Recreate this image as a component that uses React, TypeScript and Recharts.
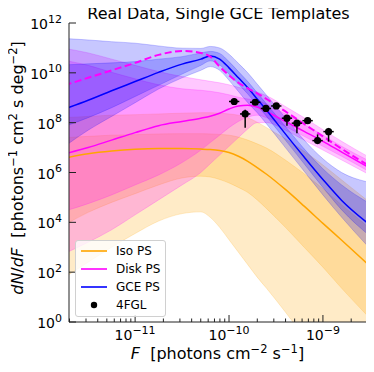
import React from 'react';
import { ComposedChart, Area, Line, Scatter, XAxis, YAxis, ErrorBar, Legend } from 'recharts';

// log10(F) grid
const logF = [-11.75, -11.5, -11.25, -11.0, -10.75, -10.5, -10.3, -10.2, -10.1, -10.0, -9.9, -9.8, -9.7, -9.6, -9.4, -9.2, -9.0, -8.8, -8.5];

// Iso PS (log10 dN/dF)
const isoMed = [6.58, 6.75, 6.86, 6.93, 6.96, 6.96, 6.94, 6.92, 6.88, 6.8, 6.65, 6.45, 6.2, 5.93, 5.32, 4.65, 3.96, 3.28, 2.25];
const isoHi95 = [8.2, 8.25, 8.3, 8.32, 8.35, 8.38, 8.4, 8.4, 8.38, 8.35, 8.3, 8.2, 8.02, 7.8, 7.35, 6.85, 6.3, 5.7, 4.8];
const isoHi68 = [7.4, 7.45, 7.5, 7.52, 7.55, 7.56, 7.56, 7.55, 7.53, 7.5, 7.42, 7.3, 7.15, 6.98, 6.5, 5.95, 5.35, 4.7, 3.75];
const isoLo68 = [3.9, 4.4, 4.8, 5.15, 5.5, 5.78, 5.85, 5.82, 5.72, 5.58, 5.4, 5.2, 4.9, 4.55, 3.8, 3.0, 2.2, 1.35, 0.15];
const isoLo95 = [1.8, 2.4, 3.0, 3.55, 4.05, 4.35, 4.42, 4.2, 3.8, 3.3, 2.8, 2.3, 1.8, 1.35, 0.4, -0.6, -1.6, -2.6, -4.0];

// Disk PS
const diskMed = [6.75, 7.0, 7.3, 7.6, 7.88, 8.05, 8.18, 8.26, 8.38, 8.55, 8.67, 8.7, 8.63, 8.45, 8.05, 7.65, 7.25, 6.82, 6.18];
const diskAlt = [9.5, 9.8, 10.1, 10.4, 10.72, 10.88, 10.8, 10.65, 10.25, 9.9, 9.6, 9.38, 9.18, 8.95, 8.45, 7.95, 7.45, 6.95, 6.25];
const diskHi95 = [10.98, 10.8, 10.55, 10.3, 10.05, 9.85, 9.72, 9.66, 9.6, 9.52, 9.42, 9.32, 9.22, 9.08, 8.65, 8.2, 7.72, 7.25, 6.6];
const diskHi68 = [10.5, 10.3, 10.02, 9.76, 9.52, 9.36, 9.3, 9.26, 9.2, 9.12, 9.02, 8.95, 8.88, 8.75, 8.35, 7.93, 7.5, 7.05, 6.45];
const diskLo68 = [4.45, 4.75, 5.1, 5.5, 5.9, 6.4, 6.9, 7.2, 7.5, 7.8, 8.05, 8.22, 8.3, 8.2, 7.85, 7.45, 7.05, 6.65, 6.02];
const diskLo95 = [2.75, 3.2, 3.7, 4.3, 4.9, 5.5, 6.0, 6.35, 6.7, 7.05, 7.4, 7.75, 8.0, 8.0, 7.7, 7.3, 6.9, 6.5, 5.9];

// GCE PS
const gceMed = [8.55, 8.9, 9.28, 9.65, 10.02, 10.35, 10.55, 10.68, 10.55, 10.2, 9.8, 9.4, 8.95, 8.5, 7.55, 6.62, 5.72, 4.88, 3.9];
const gceHi95 = [11.38, 11.32, 11.25, 11.19, 11.08, 10.99, 10.98, 11.06, 11.0, 10.75, 10.38, 10.0, 9.55, 9.1, 8.2, 7.3, 6.55, 6.0, 5.6];
const gceHi68 = [10.32, 10.36, 10.4, 10.45, 10.55, 10.65, 10.8, 10.86, 10.78, 10.45, 10.05, 9.65, 9.2, 8.75, 7.85, 6.95, 6.15, 5.5, 4.75];
const gceLo68 = [7.85, 8.2, 8.6, 9.05, 9.5, 9.95, 10.3, 10.48, 10.32, 9.95, 9.55, 9.15, 8.7, 8.25, 7.3, 6.35, 5.4, 4.5, 3.45];
const gceLo95 = [7.05, 7.7, 8.25, 8.8, 9.35, 9.8, 10.1, 10.25, 10.1, 9.7, 9.25, 8.8, 8.4, 7.95, 7.0, 6.05, 5.1, 4.2, 2.95];

// 4FGL points (log10 F, log10 dN/dF, errors in dex)
const fglLogF = [-9.945, -9.828, -9.721, -9.607, -9.497, -9.383, -9.277, -9.163, -9.057, -8.94];
const fglLogN = [8.85, 8.35, 8.82, 8.57, 8.67, 8.18, 7.98, 8.08, 7.28, 7.64];
const fglErrLo = [0.12, 0.55, 0.1, 0.12, 0.1, 0.3, 0.4, 0.12, 0.1, 0.4];
const fglErrHi = [0.12, 0.17, 0.1, 0.12, 0.1, 0.12, 0.12, 0.12, 0.25, 0.15];
const fglErrF = 0.055;

const xMin = -11.704;
const xMax = -8.52;

const ORANGE = '#ffa500';
const MAGENTA = '#ff00ff';
const BLUE = '#0000ff';
const FONT = 'DejaVu Sans';

const p = (v: number) => Math.pow(10, v);

const data = logF.map((l, i) => ({
  x: p(l),
  isoMed: p(isoMed[i]),
  iso95: [p(isoLo95[i]), p(isoHi95[i])],
  iso68: [p(isoLo68[i]), p(isoHi68[i])],
  diskMed: p(diskMed[i]),
  diskAlt: p(diskAlt[i]),
  disk95: [p(diskLo95[i]), p(diskHi95[i])],
  disk68: [p(diskLo68[i]), p(diskHi68[i])],
  gceMed: p(gceMed[i]),
  gce95: [p(gceLo95[i]), p(gceHi95[i])],
  gce68: [p(gceLo68[i]), p(gceHi68[i])],
}));

const fgl = fglLogF.map((l, i) => {
  const x = p(l);
  const y = p(fglLogN[i]);
  return {
    x,
    y,
    ex: [x - p(l - fglErrF), p(l + fglErrF) - x],
    ey: [y - p(fglLogN[i] - fglErrLo[i]), p(fglLogN[i] + fglErrHi[i]) - y],
  };
});

const xTicks: number[] = [];
for (let e = -12; e <= -9; e++) {
  for (let k = 1; k <= 9; k++) {
    const v = k * Math.pow(10, e);
    const lv = Math.log10(v);
    if (lv >= xMin && lv <= xMax) xTicks.push(v);
  }
}
const yTicks = [0, 2, 4, 6, 8, 10, 12].map(p);

const isMajor = (v: number) => {
  const l = Math.log10(v);
  return Math.abs(l - Math.round(l)) < 1e-6;
};

const XTickBottom = (props: any) => {
  const { x, y, payload } = props;
  const major = isMajor(payload.value);
  const e = Math.round(Math.log10(payload.value));
  return (
    <g>
      <line x1={x} x2={x} y1={y} y2={y - (major ? 7 : 3.5)} stroke="#222" strokeWidth={1} />
      {major && (
        <text x={x} y={y + 18} textAnchor="middle" fontSize={14} fontFamily={FONT} fill="#000">
          10<tspan dy={-6.5} fontSize={11}>{'\u2212' + String(-e)}</tspan>
        </text>
      )}
    </g>
  );
};

const XTickTop = (props: any) => {
  const { x, y, payload } = props;
  const major = isMajor(payload.value);
  return <line x1={x} x2={x} y1={y} y2={y + (major ? 7 : 3.5)} stroke="#222" strokeWidth={1} />;
};

const YTickLeft = (props: any) => {
  const { x, y, payload } = props;
  const e = Math.round(Math.log10(payload.value));
  return (
    <g>
      <line x1={x} x2={x + 7} y1={y} y2={y} stroke="#222" strokeWidth={1} />
      <text x={x - 7} y={y + 6} textAnchor="end" fontSize={14} fontFamily={FONT} fill="#000">
        10<tspan dy={-6.5} fontSize={11}>{String(e)}</tspan>
      </text>
    </g>
  );
};

const YTickRight = (props: any) => {
  const { x, y } = props;
  return <line x1={x} x2={x - 7} y1={y} y2={y} stroke="#222" strokeWidth={1} />;
};

const legendItems = [
  { label: 'Iso PS', color: ORANGE, kind: 'line' },
  { label: 'Disk PS', color: MAGENTA, kind: 'line' },
  { label: 'GCE PS', color: BLUE, kind: 'line' },
  { label: '4FGL', color: '#000', kind: 'dot' },
];

const LegendBox = () => (
  <div
    style={{
      border: '1px solid #d0d0d0',
      borderRadius: 3,
      background: 'rgba(255,255,255,0.8)',
      width: 89,
      height: 75,
      padding: 0,
      boxSizing: 'content-box',
      position: 'relative',
      fontFamily: FONT,
      fontSize: 12,
    }}
  >
    {legendItems.map((it, i) => (
      <div key={it.label} style={{ position: 'absolute', left: 0, top: 1 + i * 18.1, height: 18, width: 89 }}>
        <svg width={34} height={18} style={{ position: 'absolute', left: 0, top: 0 }}>
          {it.kind === 'line' ? (
            <line x1={5} x2={31} y1={9} y2={9} stroke={it.color} strokeWidth={1.6} />
          ) : (
            <circle cx={18} cy={9} r={3.2} fill="#000" />
          )}
        </svg>
        <span style={{ position: 'absolute', left: 40, top: 1, lineHeight: '16px', color: '#000' }}>{it.label}</span>
      </div>
    ))}
  </div>
);

const bandProps = (color: string) => ({
  type: 'monotone' as const,
  fill: color,
  fillOpacity: 0.22,
  stroke: color,
  strokeOpacity: 0.25,
  strokeWidth: 0.8,
  isAnimationActive: false,
  dot: false as const,
  activeDot: false as const,
  legendType: 'none' as const,
});

export default function App() {
  return (
    <div style={{ position: 'relative', width: 374, height: 372, margin: -8 }}>
      <ComposedChart
        width={374}
        height={372}
        data={data}
        margin={{ top: 23, right: 6, bottom: 0, left: 0 }}
        style={{ fontFamily: FONT }}
      >
        <XAxis
          dataKey="x"
          type="number"
          scale="log"
          domain={[p(xMin), p(xMax)]}
          allowDataOverflow
          ticks={xTicks}
          interval={0}
          height={50}
          tickSize={0}
          tickMargin={0}
          tickLine={false}
          tick={<XTickBottom />}
          axisLine={{ stroke: '#222', strokeWidth: 1 }}
        />
        <XAxis
          xAxisId="top"
          orientation="top"
          dataKey="x"
          type="number"
          scale="log"
          domain={[p(xMin), p(xMax)]}
          allowDataOverflow
          ticks={xTicks}
          interval={0}
          height={0}
          tickSize={0}
          tickMargin={0}
          tickLine={false}
          tick={<XTickTop />}
          axisLine={{ stroke: '#222', strokeWidth: 1 }}
        />
        <YAxis
          type="number"
          scale="log"
          domain={[1, 1e12]}
          allowDataOverflow
          ticks={yTicks}
          interval={0}
          width={69}
          tickSize={0}
          tickMargin={0}
          tickLine={false}
          tick={<YTickLeft />}
          axisLine={{ stroke: '#222', strokeWidth: 1 }}
        />
        <YAxis
          yAxisId="right"
          orientation="right"
          type="number"
          scale="log"
          domain={[1, 1e12]}
          allowDataOverflow
          ticks={yTicks}
          interval={0}
          width={0}
          tickSize={0}
          tickMargin={0}
          tickLine={false}
          tick={<YTickRight />}
          axisLine={{ stroke: '#222', strokeWidth: 1 }}
        />

        <Area dataKey="iso95" {...bandProps(ORANGE)} />
        <Area dataKey="iso68" {...bandProps(ORANGE)} />
        <Area dataKey="disk95" {...bandProps(MAGENTA)} />
        <Area dataKey="disk68" {...bandProps(MAGENTA)} />
        <Area dataKey="gce95" {...bandProps(BLUE)} />
        <Area dataKey="gce68" {...bandProps(BLUE)} />

        <Line dataKey="isoMed" type="monotone" stroke={ORANGE} strokeWidth={1.5} dot={false} activeDot={false} isAnimationActive={false} />
        <Line dataKey="diskMed" type="monotone" stroke={MAGENTA} strokeWidth={1.5} dot={false} activeDot={false} isAnimationActive={false} />
        <Line dataKey="gceMed" type="monotone" stroke={BLUE} strokeWidth={1.5} dot={false} activeDot={false} isAnimationActive={false} />
        <Line dataKey="diskAlt" type="monotone" stroke={MAGENTA} strokeWidth={2} strokeDasharray="7 3.5" dot={false} activeDot={false} isAnimationActive={false} />

        <Scatter
          data={fgl}
          dataKey="y"
          fill="#000"
          isAnimationActive={false}
          shape={(props: any) => <circle cx={props.cx} cy={props.cy} r={3.6} fill="#000" />}
        >
          <ErrorBar dataKey="ey" direction="y" width={0} stroke="#000" strokeWidth={1.5} isAnimationActive={false} />
          <ErrorBar dataKey="ex" direction="x" width={0} stroke="#000" strokeWidth={1.5} isAnimationActive={false} />
        </Scatter>

        <Legend
          layout="vertical"
          align="center"
          verticalAlign="middle"
          content={() => <LegendBox />}
          wrapperStyle={{ position: 'absolute', left: 75, top: 240, width: 'auto', height: 'auto' }}
        />
      </ComposedChart>
      <svg
        width={374}
        height={372}
        style={{ position: 'absolute', left: 0, top: 0, pointerEvents: 'none', overflow: 'visible' }}
      >
        <text x={218.5} y={19} textAnchor="middle" fontSize={16} fontFamily={FONT} fill="#000">
          Real Data, Single GCE Templates
        </text>
        <text x={217.5} y={359} textAnchor="middle" fontSize={16} fontFamily={FONT} fill="#000">
          <tspan fontStyle="italic">F</tspan>
          {'\u00a0\u00a0[photons cm'}
          <tspan dy={-6} fontSize={11.5}>{'\u22122'}</tspan>
          <tspan dy={6}>{' s'}</tspan>
          <tspan dy={-6} fontSize={11.5}>{'\u22121'}</tspan>
          <tspan dy={6}>{']'}</tspan>
        </text>
        <text
          x={23}
          y={168}
          textAnchor="middle"
          fontSize={16}
          fontFamily={FONT}
          fill="#000"
          transform="rotate(-90, 23, 168)"
        >
          <tspan fontStyle="italic">dN</tspan>
          {'/'}
          <tspan fontStyle="italic">dF</tspan>
          {'\u00a0\u00a0[photons'}
          <tspan dy={-6} fontSize={11.5}>{'\u22121'}</tspan>
          <tspan dy={6}>{' cm'}</tspan>
          <tspan dy={-6} fontSize={11.5}>{'2'}</tspan>
          <tspan dy={6}>{' s deg'}</tspan>
          <tspan dy={-6} fontSize={11.5}>{'\u22122'}</tspan>
          <tspan dy={6}>{']'}</tspan>
        </text>
      </svg>
    </div>
  );
}
